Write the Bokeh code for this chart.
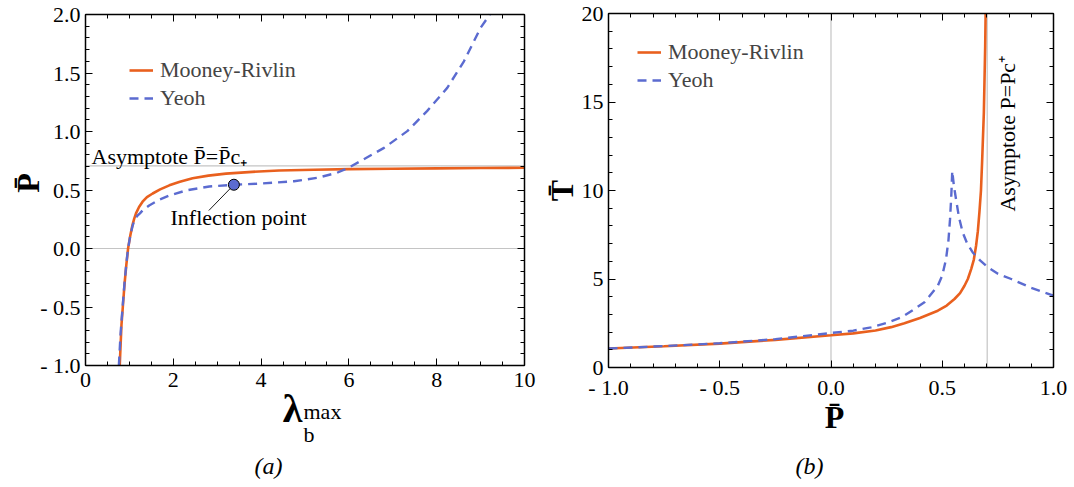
import math
from bokeh.plotting import figure
from bokeh.models import (Range1d, FixedTicker, LinearAxis, CustomJSTickFormatter,
                          Label, Legend, LegendItem)
from bokeh.layouts import row
from bokeh.embed import file_html
from bokeh.resources import INLINE

# ---------------- data ----------------
# panel (a): P-bar versus lambda_b^max
a_mr_lambda = [0.78, 0.80, 0.82, 0.85, 0.89, 0.93, 0.97, 1.02, 1.07, 1.11, 1.15, 1.22, 1.30, 1.40,
               1.53, 1.70, 1.91, 2.15, 2.44, 2.80, 3.20, 3.80, 4.41, 5.2, 6.0, 7.0, 8.0, 9.0, 10.0]
a_mr_P = [-1.0, -0.82, -0.65, -0.50, -0.30, -0.14, 0.0, 0.11, 0.20, 0.255, 0.30, 0.355, 0.40,
          0.44, 0.47, 0.505, 0.54, 0.57, 0.60, 0.623, 0.64, 0.655, 0.667, 0.673, 0.678, 0.682,
          0.685, 0.688, 0.69]
a_yeoh_lambda = [0.76, 0.80, 0.85, 0.89, 0.93, 0.97, 1.02, 1.07, 1.12, 1.18, 1.24, 1.30, 1.45,
                 1.68, 1.91, 2.29, 2.82, 3.39, 4.0, 4.75, 5.28, 5.73, 5.96, 6.26, 6.80, 7.33,
                 7.78, 8.24, 8.62, 9.0, 9.21]
a_yeoh_P = [-1.0, -0.72, -0.48, -0.29, -0.13, 0.0, 0.11, 0.19, 0.25, 0.28, 0.30, 0.325, 0.368,
            0.416, 0.453, 0.496, 0.530, 0.545, 0.555, 0.575, 0.604, 0.647, 0.684, 0.746, 0.860,
            1.003, 1.174, 1.373, 1.60, 1.886, 2.0]
a_asymptote = 0.707
a_inflection = [3.38, 0.545]
a_leader_end = [2.81, 0.325]

# panel (b): T-bar versus P-bar
b_mr_P = [-1.0, -0.75, -0.5, -0.25, 0.0, 0.1, 0.2, 0.27, 0.33, 0.40, 0.48, 0.52, 0.555, 0.58,
          0.60, 0.615, 0.63, 0.642, 0.652, 0.66, 0.667, 0.674, 0.679, 0.687, 0.693, 0.695]
b_mr_T = [1.07, 1.2, 1.35, 1.56, 1.82, 1.93, 2.09, 2.28, 2.5, 2.8, 3.21, 3.5, 3.87, 4.2, 4.62,
          5.0, 5.56, 6.1, 6.88, 7.7, 8.76, 10.0, 11.58, 14.4, 18.16, 20.0]
b_yeoh_P = [-1.0, -0.75, -0.5, -0.25, 0.0, 0.1, 0.18, 0.25, 0.32, 0.42, 0.48, 0.50, 0.517,
            0.528, 0.535, 0.541, 0.545, 0.552, 0.562, 0.575, 0.592, 0.612, 0.637, 0.67, 0.705,
            0.75, 0.81, 0.9, 1.0]
b_yeoh_T = [1.07, 1.21, 1.37, 1.6, 1.95, 2.08, 2.27, 2.52, 2.85, 3.68, 4.62, 5.2, 6.12, 7.2,
            8.38, 9.8, 11.1, 10.3, 9.5, 8.5, 7.63, 7.0, 6.5, 6.05, 5.66, 5.3, 5.0, 4.5, 4.06]
b_asymptote = 0.702

a_xticks = [0, 2, 4, 6, 8, 10]
a_xminor = [i * 0.5 for i in range(21)]
a_yticks = [-1.0, -0.5, 0.0, 0.5, 1.0, 1.5, 2.0]
a_yminor = [round(-1 + i * 0.1, 2) for i in range(31)]
b_xticks = [-1.0, -0.5, 0.0, 0.5, 1.0]
b_xminor = [round(-1 + i * 0.1, 2) for i in range(21)]
b_yticks = [0, 5, 10, 15, 20]
b_yminor = list(range(21))

FONT = "Liberation Serif"
ORANGE = "#E9601E"
BLUE = "#5B6BD0"
GREY = "#C4C4C4"
TXT = "22px"

MINUS_FMT = "const s = Math.abs(tick).toFixed(1); return tick < -1e-9 ? '- ' + s : s;"


def make_panel(W, H, box, xlim, ylim):
    """box = (left, right, top, bottom) pixel position of the framed box in the canvas."""
    l, r, t, b = box
    sx = (r - l) / (xlim[1] - xlim[0])
    sy = (b - t) / (ylim[1] - ylim[0])
    xr = Range1d(xlim[0] - l / sx, xlim[1] + (W - r) / sx)
    yr = Range1d(ylim[0] - (H - b) / sy, ylim[1] + t / sy)
    p = figure(width=W, height=H, x_range=xr, y_range=yr, output_backend="svg",
               toolbar_location=None, min_border=0, min_border_left=0, min_border_right=0,
               min_border_top=0, min_border_bottom=0)
    p.title.visible = False
    p.grid.visible = False
    p.outline_line_color = None
    p.background_fill_color = "white"
    p.border_fill_color = "white"
    return p


def make_axes(p, xlim, ylim, xt, xm, yt, ym, xfmt=None, yfmt=None):
    bottom = p.xaxis[0]
    left = p.yaxis[0]
    bottom.ticker = FixedTicker(ticks=xt, minor_ticks=xm)
    left.ticker = FixedTicker(ticks=yt, minor_ticks=ym)
    bottom.fixed_location = ylim[0]
    left.fixed_location = xlim[0]
    bottom.bounds = tuple(xlim)
    left.bounds = tuple(ylim)
    if xfmt:
        bottom.formatter = CustomJSTickFormatter(code=xfmt)
    if yfmt:
        left.formatter = CustomJSTickFormatter(code=yfmt)
    top = LinearAxis(ticker=FixedTicker(ticks=xt, minor_ticks=xm), fixed_location=ylim[1],
                     bounds=tuple(xlim), formatter=CustomJSTickFormatter(code="return '';"))
    right = LinearAxis(ticker=FixedTicker(ticks=yt, minor_ticks=ym), fixed_location=xlim[1],
                       bounds=tuple(ylim), formatter=CustomJSTickFormatter(code="return '';"))
    p.add_layout(top, "above")
    p.add_layout(right, "right")
    for ax in [bottom, left, top, right]:
        ax.major_tick_in = 7
        ax.major_tick_out = 0
        ax.minor_tick_in = 4
        ax.minor_tick_out = 0
        ax.axis_line_width = 1.5
        ax.axis_line_color = "black"
        ax.major_tick_line_color = "black"
        ax.minor_tick_line_color = "black"
        ax.major_label_text_font = FONT
        ax.major_label_text_color = "black"
    for ax in [top, right]:
        ax.major_label_text_font_size = "0px"
        ax.major_label_standoff = 0
    bottom.major_label_text_font_size = TXT
    left.major_label_text_font_size = TXT
    bottom.major_label_standoff = 7
    left.major_label_standoff = 5


def label(p, x, y, text, size=TXT, align="left", angle=0, style="normal"):
    p.add_layout(Label(x=x, y=y, text=text, text_font=FONT, text_font_size=size,
                       text_align=align, text_baseline="middle", angle=angle,
                       text_font_style=style, text_color="black"))


def legend(p, r1, r2, loc):
    lg = Legend(items=[LegendItem(label="Mooney-Rivlin", renderers=[r1]),
                       LegendItem(label="Yeoh", renderers=[r2])],
                location=loc, label_text_font=FONT, label_text_font_size=TXT,
                glyph_width=24, glyph_height=28, label_height=28, label_standoff=7,
                spacing=0, padding=0, margin=0, border_line_color=None,
                background_fill_alpha=0)
    p.add_layout(lg)


# ---------------- panel (a) ----------------
a_xlim = (a_xticks[0], a_xticks[-1])
a_ylim = (a_yticks[0], a_yticks[-1])
p1 = make_panel(540, 487, (85, 524, 14, 365), a_xlim, a_ylim)
make_axes(p1, a_xlim, a_ylim, a_xticks, a_xminor, a_yticks, a_yminor, yfmt=MINUS_FMT)
p1.segment(x0=[a_xlim[0], a_xlim[0]], x1=[a_xlim[1], a_xlim[1]], y0=[0, a_asymptote],
           y1=[0, a_asymptote], line_color=GREY, line_width=1.2, level="underlay")
r1 = p1.line(a_mr_lambda, a_mr_P, line_color=ORANGE, line_width=2.6)
r2 = p1.line(a_yeoh_lambda, a_yeoh_P, line_color=BLUE, line_width=2.4, line_dash="9 6")
p1.line([a_inflection[0], a_leader_end[0]], [a_inflection[1], a_leader_end[1]],
        line_color="black", line_width=0.9)
p1.scatter([a_inflection[0]], [a_inflection[1]], size=11, fill_color=BLUE, line_color="black",
           line_width=1)
legend(p1, r1, r2, (129, 375))
label(p1, 0.137, 0.786, "Asymptote P\u0304=P\u0304c\u208a")
label(p1, 1.936, 0.261, "Inflection point")
label(p1, -1.32, 0.56, "P\u0304", size="32px", align="center", angle=math.pi / 2, style="bold")
label(p1, 4.715, -1.368, "\u03bb", size="40px", align="center", style="bold")
label(p1, 4.966, -1.586, "b", size="22px")
label(p1, 4.966, -1.390, "max", size="22px")
label(p1, 4.17, -1.863, "(a)", size="24px", align="center", style="italic")

# ---------------- panel (b) ----------------
b_xlim = (b_xticks[0], b_xticks[-1])
b_ylim = (b_yticks[0], b_yticks[-1])
p2 = make_panel(534, 487, (68, 513, 13, 367), b_xlim, b_ylim)
make_axes(p2, b_xlim, b_ylim, b_xticks, b_xminor, b_yticks, b_yminor, xfmt=MINUS_FMT)
p2.segment(x0=[0, b_asymptote], x1=[0, b_asymptote], y0=[b_ylim[0], b_ylim[0]],
           y1=[b_ylim[1], b_ylim[1]], line_color=GREY, line_width=1.2, level="underlay")
q1 = p2.line(b_mr_P, b_mr_T, line_color=ORANGE, line_width=2.6)
q2 = p2.line(b_yeoh_P, b_yeoh_T, line_color=BLUE, line_width=2.4, line_dash="9 6")
legend(p2, q1, q2, (97, 393))
label(p2, 0.793, 8.81, "Asymptote P=Pc\u207a", align="left", angle=math.pi / 2)
label(p2, -1.207, 10.0, "T\u0304", size="32px", align="center", angle=math.pi / 2, style="bold")
label(p2, 0.016, -2.82, "P\u0304", size="32px", align="center", style="bold")
label(p2, -0.097, -5.59, "(b)", size="24px", align="center", style="italic")

layout = row(p1, p2)
open("out.html", "w").write(file_html(layout, INLINE))
